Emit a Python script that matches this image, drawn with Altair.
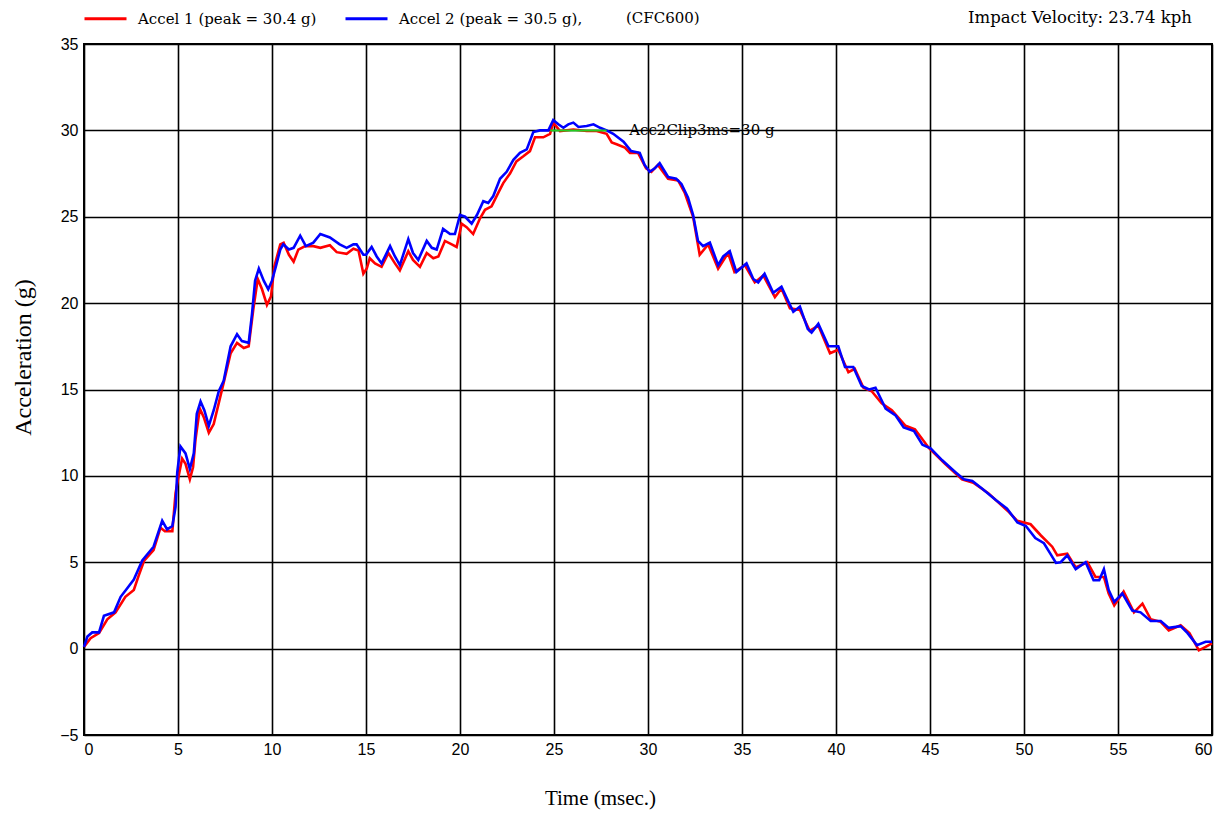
import altair as alt
import pandas as pd

# ---- data ----
t1 = [0, 0.35, 0.8, 1.24, 1.68, 2.2, 2.65, 2.9, 3.2, 3.7, 4.07, 4.3, 4.7, 4.87, 5.0, 5.22, 5.4, 5.63, 5.8, 5.93,
      6.16, 6.37, 6.64, 6.9, 7.43, 7.8, 8.14, 8.5, 8.76, 9.0, 9.24, 9.47, 9.73, 9.95, 10.12, 10.44, 10.62, 10.9,
      11.15, 11.4, 11.77, 12.2, 12.57, 13.08, 13.44, 13.97, 14.33, 14.6, 14.86, 15.04, 15.2, 15.48, 15.83, 16.19,
      16.54, 16.8, 17.25, 17.5, 17.87, 18.23, 18.58, 18.85, 19.2, 19.56, 19.82, 20.09, 20.35, 20.7, 21.06, 21.33,
      21.68, 22.04, 22.3, 22.66, 23.0, 23.37, 23.72, 23.99, 24.43, 24.79, 24.96, 25.32, 26.03, 26.74, 27.27, 27.8,
      28.07, 28.33, 28.77, 29.04, 29.47, 29.9, 30.18, 30.53, 31.07, 31.6, 31.95, 32.4, 32.75, 33.2, 33.73, 34.26,
      34.6, 35.15, 35.68, 36.13, 36.75, 37.1, 37.55, 38.08, 38.6, 39.06, 39.68, 40.12, 40.66, 41.0, 41.46, 41.9,
      42.43, 42.97, 43.7, 44.2, 44.95, 45.8, 46.7, 47.3, 48.1, 49.2, 49.64, 50.35, 50.9, 51.5, 51.77, 52.3, 52.75,
      53.37, 53.8, 54.25, 54.5, 54.8, 55.3, 55.85, 56.3, 56.74, 57.27, 57.7, 58.33, 58.8, 59.3, 59.66, 60.0]
a1 = [0.1, 0.6, 0.9, 1.7, 2.1, 3.0, 3.4, 4.2, 5.1, 5.7, 7.0, 6.8, 6.8, 9.0, 9.8, 11.0, 10.7, 9.8, 10.5, 12.1,
      13.9, 13.4, 12.5, 13.0, 15.4, 17.1, 17.7, 17.4, 17.5, 19.6, 21.4, 20.8, 19.9, 20.4, 22.1, 23.4, 23.5, 22.8,
      22.4, 23.1, 23.3, 23.3, 23.2, 23.35, 22.95, 22.85, 23.15, 23.05, 21.7, 22.0, 22.6, 22.3, 22.1, 22.9,
      22.3, 21.9, 23.0, 22.5, 22.1, 22.9, 22.6, 22.7, 23.6, 23.4, 23.25, 24.6, 24.4, 24.0, 24.9, 25.4,
      25.6, 26.4, 26.95, 27.5, 28.2, 28.5, 28.8, 29.6, 29.6, 29.8, 30.45, 29.96, 30.05, 29.96, 29.96, 29.8,
      29.3, 29.2, 29.0, 28.7, 28.7, 27.8, 27.6, 28.0, 27.2, 27.1, 26.4, 25.0, 22.8, 23.4, 22.0, 22.9,
      21.8, 22.2, 21.2, 21.6, 20.35, 20.85, 19.7, 19.6, 18.4, 18.7, 17.1, 17.3, 16.0, 16.2, 15.1, 14.9,
      14.2, 13.8, 12.9, 12.7, 11.6, 10.7, 9.8, 9.6, 9.0, 7.9, 7.4, 7.2, 6.55, 5.9, 5.4, 5.5, 4.7,
      5.0, 4.15, 4.15, 3.2, 2.5, 3.3, 2.1, 2.6, 1.7, 1.55, 1.05, 1.35, 0.9, -0.1, 0.1, 0.3]

t2 = [0, 0.18, 0.44, 0.8, 1.06, 1.6, 1.95, 2.3, 2.65, 3.1, 3.7, 4.16, 4.42, 4.7, 4.87, 4.96, 5.13, 5.4, 5.63,
      5.84, 6.0, 6.2, 6.4, 6.64, 6.9, 7.17, 7.43, 7.8, 8.14, 8.4, 8.76, 8.94, 9.1, 9.3, 9.56, 9.8, 10.0, 10.2,
      10.44, 10.6, 10.9, 11.15, 11.5, 11.8, 12.2, 12.57, 13.08, 13.6, 13.97, 14.33, 14.5, 14.86, 15.0, 15.3,
      15.57, 15.83, 16.28, 16.54, 16.8, 17.25, 17.5, 17.78, 18.23, 18.5, 18.76, 19.1, 19.47, 19.73, 20.0, 20.27,
      20.62, 20.9, 21.24, 21.5, 21.77, 22.13, 22.48, 22.84, 23.19, 23.55, 23.9, 24.25, 24.7, 24.96, 25.23, 25.5,
      25.76, 26.03, 26.3, 26.74, 27.1, 27.45, 27.8, 28.15, 28.7, 29.1, 29.56, 29.82, 30.09, 30.36, 30.62, 31.07,
      31.5, 31.78, 32.13, 32.4, 32.66, 32.93, 33.29, 33.73, 34.0, 34.35, 34.7, 35.24, 35.6, 35.86, 36.2, 36.66,
      37.1, 37.46, 37.73, 38.08, 38.5, 38.7, 39.06, 39.6, 40.12, 40.48, 40.92, 41.37, 41.76, 42.1, 42.64, 43.17,
      43.6, 44.15, 44.6, 45.03, 45.65, 46.37, 46.8, 47.25, 47.78, 48.5, 49.1, 49.65, 50.1, 50.6, 51.06, 51.4,
      51.7, 51.95, 52.3, 52.75, 53.28, 53.7, 54.0, 54.25, 54.5, 54.8, 55.23, 55.76, 56.2, 56.74, 57.27, 57.7,
      58.33, 58.7, 59.2, 59.66, 60.0]
a2 = [0.1, 0.7, 0.94, 0.94, 1.9, 2.1, 3.0, 3.5, 4.0, 5.1, 5.9, 7.4, 6.9, 7.1, 8.2, 10.2, 11.7, 11.3, 10.4,
      11.3, 13.6, 14.3, 13.8, 12.9, 13.8, 14.9, 15.5, 17.5, 18.2, 17.8, 17.7, 19.4, 21.3, 22.0, 21.3, 20.8, 21.3, 22.1,
      23.1, 23.4, 23.1, 23.2, 23.9, 23.3, 23.5, 24.0, 23.8, 23.4, 23.2, 23.4, 23.4, 22.8, 22.8, 23.25,
      22.7, 22.3, 23.3, 22.7, 22.2, 23.7, 22.9, 22.5, 23.6, 23.2, 23.1, 24.3, 24.0, 24.0, 25.1, 25.0,
      24.6, 25.1, 25.9, 25.8, 26.2, 27.2, 27.6, 28.3, 28.7, 28.9, 29.9, 30.0, 30.0, 30.6, 30.35, 30.15,
      30.35, 30.45, 30.2, 30.25, 30.35, 30.15, 30.0, 29.8, 29.35, 28.8, 28.7, 28.0, 27.6, 27.8, 28.1, 27.3,
      27.2, 26.9, 26.1, 25.1, 23.6, 23.3, 23.5, 22.2, 22.7, 23.0, 21.8, 22.3, 21.4, 21.2, 21.7, 20.6,
      20.95, 20.1, 19.5, 19.8, 18.5, 18.3, 18.8, 17.5, 17.5, 16.3, 16.3, 15.2, 15.0, 15.1, 13.9, 13.5,
      12.8, 12.6, 11.8, 11.6, 10.9, 10.2, 9.8, 9.7, 9.25, 8.6, 8.1, 7.3, 7.1, 6.4, 6.1, 5.5,
      4.96, 5.0, 5.4, 4.6, 5.0, 3.96, 3.96, 4.6, 3.4, 2.7, 3.2, 2.2, 2.1, 1.6, 1.6, 1.2,
      1.3, 0.9, 0.2, 0.4, 0.4]

series_names = ["Accel 1 (peak = 30.4 g)", "Accel 2 (peak = 30.5 g),"]
series_colors = ["#ff0000", "#0000ff"]

clip_t = [24.8, 27.8]
clip_g = [30, 30]
clip_label = "Acc2Clip3ms=30 g"
clip_label_t = 29.0

x_ticks = list(range(0, 61, 5))
y_ticks = list(range(-5, 36, 5))

df = pd.concat([
    pd.DataFrame({"t": t1, "g": a1, "series": series_names[0], "order": range(len(t1))}),
    pd.DataFrame({"t": t2, "g": a2, "series": series_names[1], "order": range(len(t2))}),
])
clip_df = pd.DataFrame({"t": clip_t, "g": clip_g})
label_df = pd.DataFrame({"t": [clip_label_t], "g": [clip_g[0]], "txt": [clip_label]})

SERIF = "Liberation Serif"
WSERIF = "DejaVu Serif"
SANS = "Liberation Sans"

x_scale = alt.Scale(domain=[0, 60], nice=False, zero=False)
y_scale = alt.Scale(domain=[-5, 35], nice=False, zero=False)

x_axis = alt.Axis(values=x_ticks, title="Time (msec.)", grid=True, tickSize=0, labelPadding=6,
                  labelFont=SANS, labelFontSize=16, labelColor="black", labelFontWeight="normal",
                  titleFont=SERIF, titleFontSize=21, titleFontWeight="normal", titleColor="black",
                  titleX=516, titleY=52, titleBaseline="top", titleAlign="center")
y_axis = alt.Axis(values=y_ticks, title="Acceleration (g)", grid=True, tickSize=0, labelPadding=6,
                  labelFont=SANS, labelFontSize=16, labelColor="black",
                  titleFont=SERIF, titleFontSize=24, titleFontWeight="normal", titleColor="black",
                  titleX=-61, titleY=313, titleAngle=270, titleAlign="center", titleBaseline="middle")

lines = alt.Chart(df).mark_line(strokeWidth=2.6, interpolate="linear").encode(
    x=alt.X("t:Q", scale=x_scale, axis=x_axis),
    y=alt.Y("g:Q", scale=y_scale, axis=y_axis),
    color=alt.Color("series:N",
                    scale=alt.Scale(domain=series_names, range=series_colors),
                    legend=alt.Legend(title=None, orient="none", direction="horizontal",
                                      legendX=-1, legendY=-48, padding=0,
                                      symbolType="stroke", symbolSize=1764, symbolStrokeWidth=3,
                                      labelFont=WSERIF, labelFontSize=15, labelColor="black",
                                      labelOffset=10, columnPadding=22, labelLimit=400)),
    order="order:Q",
)

clip_line = alt.Chart(clip_df).mark_line(color="#22cc22", strokeWidth=2).encode(
    x=alt.X("t:Q", scale=x_scale), y=alt.Y("g:Q", scale=y_scale))

clip_text = alt.Chart(label_df).mark_text(align="left", baseline="middle", font=WSERIF, fontSize=15,
                                          color="black").encode(
    x=alt.X("t:Q", scale=x_scale), y=alt.Y("g:Q", scale=y_scale), text="txt:N")

cfc_text = alt.Chart(pd.DataFrame({"txt": ["(CFC600)"]})).mark_text(
    align="left", baseline="middle", font=WSERIF, fontSize=15, color="black").encode(
    x=alt.value(542), y=alt.value(-26), text="txt:N")

vel_text = alt.Chart(pd.DataFrame({"txt": ["Impact Velocity: 23.74 kph"]})).mark_text(
    align="right", baseline="middle", font=WSERIF, fontSize=16.5, color="black").encode(
    x=alt.value(1108), y=alt.value(-26), text="txt:N")

chart = alt.layer(lines, clip_line, clip_text, cfc_text, vel_text).properties(
    width=1128, height=691,
    autosize=alt.AutoSizeParams(type="none"),
    padding={"left": 76, "top": 36, "right": 11, "bottom": 78},
    background="white",
).configure_view(stroke="black", strokeWidth=2).configure_axis(
    gridColor="black", gridWidth=1.6, gridOpacity=1, domain=False,
)

chart.save("out.html", embed_options={"renderer": "svg", "actions": False})
